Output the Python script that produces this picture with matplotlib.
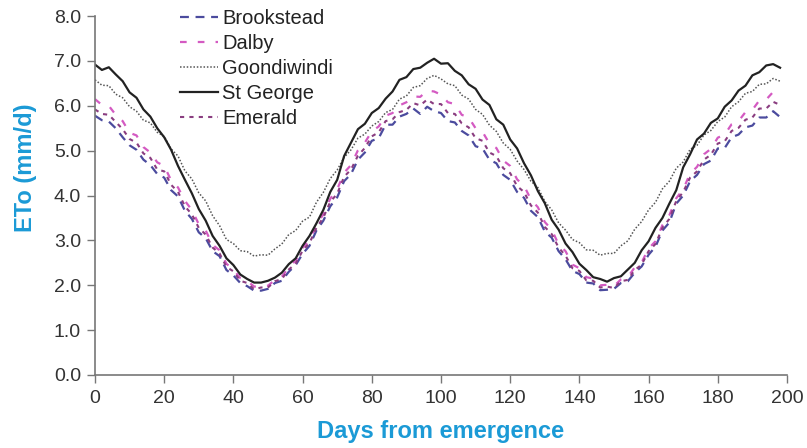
import numpy as np
import matplotlib.pyplot as plt

# dias (passo de 2) e ETo
days = list(range(0, 200, 2))

brookstead = [5.78, 5.68, 5.65, 5.50, 5.30, 5.12, 5.02, 4.80, 4.68, 4.48,
              4.40, 4.12, 3.98, 3.66, 3.48, 3.18, 3.05, 2.76, 2.65, 2.34,
              2.22, 2.05, 1.98, 1.88, 1.88, 1.92, 2.05, 2.10, 2.30, 2.45,
              2.70, 2.88, 3.22, 3.44, 3.76, 3.96, 4.32, 4.48, 4.80, 4.96,
              5.22, 5.28, 5.58, 5.58, 5.76, 5.82, 5.94, 5.82, 5.98, 5.88,
              5.84, 5.66, 5.63, 5.44, 5.34, 5.10, 5.05, 4.80, 4.72, 4.46,
              4.35, 4.08, 3.95, 3.66, 3.52, 3.20, 3.06, 2.76, 2.58, 2.32,
              2.25, 2.06, 2.04, 1.89, 1.90, 1.92, 2.05, 2.09, 2.28, 2.42,
              2.68, 2.86, 3.22, 3.40, 3.82, 4.00, 4.32, 4.46, 4.70, 4.78,
              5.05, 5.06, 5.30, 5.36, 5.52, 5.56, 5.74, 5.74, 5.88, 5.75]

dalby = [6.15, 6.02, 6.00, 5.80, 5.66, 5.40, 5.34, 5.08, 4.96, 4.74,
         4.66, 4.34, 4.18, 3.88, 3.68, 3.36, 3.22, 2.90, 2.78, 2.48,
         2.35, 2.16, 2.10, 1.97, 1.98, 1.99, 2.12, 2.19, 2.40, 2.55,
         2.83, 3.01, 3.35, 3.58, 3.93, 4.14, 4.51, 4.68, 5.01, 5.18,
         5.43, 5.54, 5.78, 5.84, 6.01, 6.08, 6.21, 6.20, 6.34, 6.32,
         6.25, 6.08, 6.04, 5.80, 5.74, 5.50, 5.42, 5.16, 5.06, 4.78,
         4.66, 4.36, 4.22, 3.91, 3.74, 3.41, 3.24, 2.91, 2.76, 2.46,
         2.38, 2.18, 2.15, 2.00, 2.01, 1.98, 2.13, 2.18, 2.40, 2.51,
         2.82, 2.98, 3.34, 3.56, 3.94, 4.14, 4.49, 4.64, 4.92, 5.04,
         5.29, 5.36, 5.59, 5.66, 5.86, 5.91, 6.12, 6.14, 6.31, 6.32]

goondiwindi = [6.58, 6.46, 6.45, 6.26, 6.18, 5.98, 5.88, 5.68, 5.62, 5.41,
               5.32, 5.04, 4.88, 4.55, 4.37, 4.06, 3.88, 3.55, 3.33, 3.02,
               2.93, 2.77, 2.75, 2.65, 2.68, 2.67, 2.81, 2.92, 3.13, 3.22,
               3.43, 3.52, 3.85, 4.07, 4.38, 4.57, 4.85, 5.02, 5.28, 5.37,
               5.55, 5.65, 5.85, 5.92, 6.15, 6.22, 6.41, 6.45, 6.61, 6.68,
               6.60, 6.49, 6.45, 6.24, 6.15, 5.92, 5.81, 5.57, 5.43, 5.17,
               5.03, 4.77, 4.58, 4.32, 4.18, 3.87, 3.68, 3.39, 3.23, 3.02,
               2.95, 2.79, 2.78, 2.67, 2.71, 2.71, 2.88, 2.99, 3.25, 3.42,
               3.68, 3.85, 4.15, 4.32, 4.61, 4.75, 5.03, 5.12, 5.35, 5.45,
               5.65, 5.75, 5.98, 6.09, 6.28, 6.32, 6.48, 6.49, 6.61, 6.55]

st_george = [6.92, 6.80, 6.86, 6.70, 6.55, 6.30, 6.18, 5.92, 5.76, 5.50,
             5.30, 5.02, 4.66, 4.35, 4.05, 3.70, 3.44, 3.10, 2.88, 2.60,
             2.45, 2.24, 2.14, 2.06, 2.06, 2.10, 2.17, 2.28, 2.47, 2.60,
             2.88, 3.10, 3.38, 3.68, 4.08, 4.35, 4.88, 5.18, 5.48, 5.60,
             5.84, 5.95, 6.16, 6.32, 6.58, 6.64, 6.82, 6.85, 6.96, 7.05,
             6.94, 6.95, 6.78, 6.68, 6.48, 6.38, 6.14, 6.02, 5.70, 5.58,
             5.25, 5.05, 4.72, 4.45, 4.10, 3.83, 3.46, 3.24, 2.93, 2.74,
             2.48, 2.34, 2.18, 2.14, 2.08, 2.16, 2.20, 2.35, 2.50, 2.78,
             2.98, 3.28, 3.50, 3.82, 4.12, 4.63, 4.92, 5.25, 5.38, 5.62,
             5.72, 5.98, 6.12, 6.34, 6.45, 6.68, 6.75, 6.90, 6.93, 6.85]

emerald = [5.92, 5.82, 5.80, 5.64, 5.48, 5.26, 5.18, 4.94, 4.84, 4.58,
           4.54, 4.24, 4.08, 3.76, 3.58, 3.28, 3.13, 2.84, 2.71, 2.41,
           2.31, 2.10, 2.05, 1.91, 1.95, 1.95, 2.09, 2.14, 2.35, 2.48,
           2.77, 2.94, 3.28, 3.51, 3.86, 4.04, 4.42, 4.58, 4.89, 5.06,
           5.32, 5.41, 5.66, 5.70, 5.86, 5.91, 6.06, 6.01, 6.14, 6.04,
           6.04, 5.84, 5.82, 5.61, 5.52, 5.28, 5.22, 4.96, 4.88, 4.61,
           4.50, 4.21, 4.08, 3.78, 3.62, 3.30, 3.14, 2.84, 2.66, 2.38,
           2.32, 2.11, 2.10, 1.95, 1.97, 1.94, 2.09, 2.12, 2.34, 2.46,
           2.76, 2.92, 3.28, 3.48, 3.88, 4.08, 4.40, 4.54, 4.80, 4.91,
           5.16, 5.21, 5.44, 5.51, 5.69, 5.74, 5.94, 5.94, 6.09, 6.02]

y_ticks = [0, 1, 2, 3, 4, 5, 6, 7, 8]
x_ticks = list(range(0, 201, 20))

plt.rcParams['font.family'] = ['Liberation Sans', 'DejaVu Sans']
azul = '#1b9ad6'

fig = plt.figure(figsize=(8.07, 4.48), dpi=100)
ax = fig.add_axes([0.1177, 0.163, 0.8575, 0.801])

ax.plot(days, brookstead, color='#4b4b9e', lw=1.6, dashes=(4, 3), label='Brookstead')
ax.plot(days, dalby, color='#d45ac2', lw=1.6, dashes=(3, 5), label='Dalby')
ax.plot(days, goondiwindi, color='#555555', lw=1.1, linestyle=(0, (1, 1.2)), label='Goondiwindi')
ax.plot(days, st_george, color='#222222', lw=1.6, label='St George')
ax.plot(days, emerald, color='#8a3d80', lw=1.5, dashes=(2, 2.5), label='Emerald')

ax.set_xlim(0, 200)
ax.set_ylim(0, 8)
ax.set_xticks(x_ticks)
ax.set_yticks(y_ticks)
ax.set_yticklabels([f'{v:.1f}' for v in y_ticks])
ax.tick_params(direction='out', length=6, width=1, color='#777777',
               labelsize=14, labelcolor='#333333')
ax.tick_params(axis='x', pad=5)
ax.tick_params(axis='y', pad=4)
for s in ['top', 'right']:
    ax.spines[s].set_visible(False)
for s in ['left', 'bottom']:
    ax.spines[s].set_color('#777777')
    ax.spines[s].set_linewidth(1.2)

ax.set_xlabel('Days from emergence', color=azul, fontsize=17, fontweight='bold',
              labelpad=9)
ax.set_ylabel('ETo (mm/d)', color=azul, fontsize=17, fontweight='bold',
              labelpad=12, y=0.577)

leg = ax.legend(loc='upper left', bbox_to_anchor=(180 / 807, 1 - 9 / 448),
                bbox_transform=fig.transFigure, frameon=False, fontsize=14.5,
                handlelength=1.9, handletextpad=0.2, labelspacing=0.3,
                borderaxespad=0, borderpad=0)
for t in leg.get_texts():
    t.set_color('#222222')

fig.savefig('out.png', dpi=100)
